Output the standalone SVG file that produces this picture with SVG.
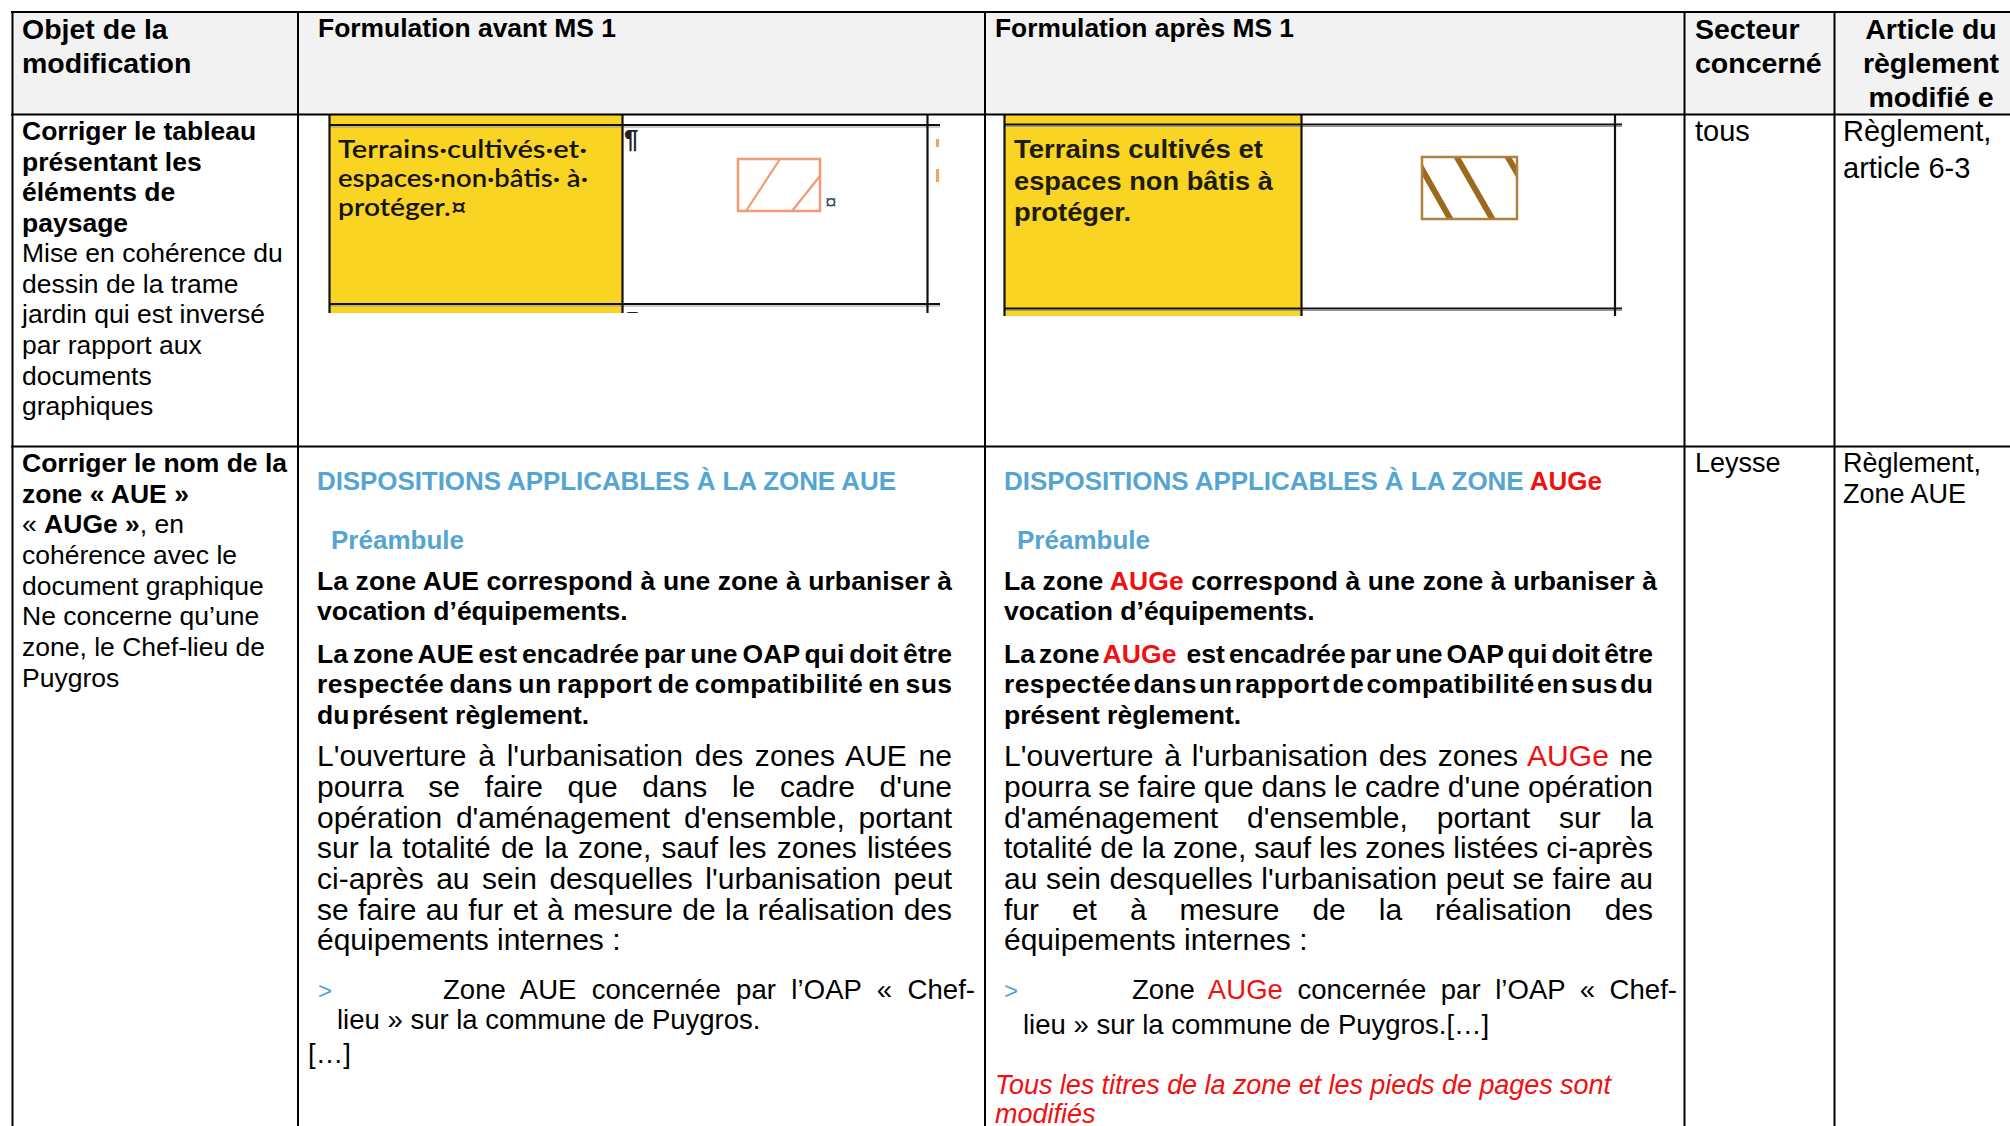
<svg xmlns="http://www.w3.org/2000/svg" width="2010" height="1126" viewBox="0 0 2010 1126">
<style>
text{font-family:"Liberation Sans",Arial,sans-serif;fill:#000}
.hd{font-size:28.5px;font-weight:bold}
.hd2{font-size:26.5px;font-weight:bold}
.b{font-size:26.5px;font-weight:bold}
.r{font-size:26.5px}
.rr{font-size:30px}
.bu{font-size:27.5px}
.c45a{font-size:29px}
.c45b{font-size:27px}
.blue{fill:#55a5d2}
.red{fill:#f01010}
.bl{fill:#55a5d2;font-size:26px;font-weight:bold}
.grid{stroke:#000;stroke-width:2;fill:none}
.imgline{stroke:#111;stroke-width:2.2}
.yel{fill:#f9d423}
.cal{font-family:Lato,"Open Sans",sans-serif;font-size:24px;font-weight:600;fill:#141408}
.ab{font-size:25px;font-weight:bold;fill:#1c1c10}
</style>
<defs>
<clipPath id="clipA"><rect x="322" y="115" width="620" height="198"/></clipPath>
<clipPath id="clipB"><rect x="1000" y="115" width="626" height="201"/></clipPath>
<clipPath id="hatchB"><rect x="1422" y="157" width="95" height="62"/></clipPath>
</defs>

<!-- header background -->
<rect x="12" y="12" width="1998" height="102.5" fill="#f2f2f2"/>

<!-- row 1 embedded legend extracts -->
<g id="extract-before" clip-path="url(#clipA)">
  <rect class="yel" x="329" y="114" width="293" height="200"/>
  <rect x="622" y="114" width="305" height="200" fill="#fff"/>
  <line class="imgline" x1="329" y1="125" x2="940" y2="125"/>
  <line x1="329" y1="127" x2="940" y2="127" stroke="#999" stroke-width="1"/>
  <line class="imgline" x1="329" y1="304" x2="940" y2="304"/>
  <line x1="329" y1="306" x2="940" y2="306" stroke="#999" stroke-width="1"/>
  <line class="imgline" x1="329.5" y1="114" x2="329.5" y2="316"/>
  <line class="imgline" x1="622.5" y1="114" x2="622.5" y2="316"/>
  <line class="imgline" x1="927.5" y1="114" x2="927.5" y2="316"/>
  <text x="624" y="148" style="font-size:26px;font-weight:bold;fill:#222">¶</text>
  <text x="624" y="330" style="font-size:26px;font-weight:bold;fill:#222">¶</text>
  <rect x="936" y="139" width="3" height="8" fill="#f4a460"/>
  <rect x="936" y="169" width="3" height="13" fill="#f4a460"/>
  <text class="cal" x="338" y="158" textLength="249" lengthAdjust="spacingAndGlyphs">Terrains·cultivés·et·</text>
  <text class="cal" x="338" y="187" textLength="250" lengthAdjust="spacingAndGlyphs">espaces·non·bâtis· à·</text>
  <text class="cal" x="338" y="216" textLength="129" lengthAdjust="spacingAndGlyphs">protéger.¤</text>
  <rect x="738" y="159" width="82" height="52" fill="none" stroke="#f29a72" stroke-width="2.5"/>
  <line x1="746" y1="211" x2="780" y2="159" stroke="#f29a72" stroke-width="2.2"/>
  <line x1="792" y1="211" x2="820" y2="176" stroke="#f29a72" stroke-width="2.2"/>
  <text x="825" y="209" style="font-size:21px;fill:#3a4a6a">¤</text>
</g>

<g id="extract-after" clip-path="url(#clipB)">
  <rect class="yel" x="1004" y="114" width="297" height="202"/>
  <rect x="1301" y="114" width="314" height="202" fill="#fff"/>
  <line class="imgline" x1="1004" y1="124.5" x2="1622" y2="124.5"/>
  <line x1="1004" y1="126.5" x2="1622" y2="126.5" stroke="#999" stroke-width="1"/>
  <line class="imgline" x1="1004" y1="308.5" x2="1622" y2="308.5"/>
  <line x1="1004" y1="310.5" x2="1622" y2="310.5" stroke="#999" stroke-width="1"/>
  <line class="imgline" x1="1004.5" y1="114" x2="1004.5" y2="316"/>
  <line class="imgline" x1="1301.5" y1="114" x2="1301.5" y2="316"/>
  <line class="imgline" x1="1615" y1="114" x2="1615" y2="316"/>
  <text class="ab" x="1014" y="158" textLength="249" lengthAdjust="spacingAndGlyphs">Terrains cultivés et</text>
  <text class="ab" x="1014" y="190" textLength="259" lengthAdjust="spacingAndGlyphs">espaces non bâtis à</text>
  <text class="ab" x="1014" y="221" textLength="117" lengthAdjust="spacingAndGlyphs">protéger.</text>
  <g clip-path="url(#hatchB)" stroke="#9c6a1e" stroke-width="6">
    <line x1="1418" y1="162" x2="1452" y2="222"/>
    <line x1="1455" y1="154" x2="1494" y2="222"/>
    <line x1="1506" y1="154" x2="1520" y2="178"/>
  </g>
  <rect x="1422" y="157" width="95" height="62" fill="none" stroke="#b08040" stroke-width="2.5"/>
</g>

<!-- table grid -->
<g id="connectors">
  <line class="grid" x1="11" y1="12" x2="2010" y2="12"/>
  <line class="grid" x1="11" y1="114.5" x2="2010" y2="114.5"/>
  <line class="grid" x1="11" y1="446.5" x2="2010" y2="446.5"/>
  <line class="grid" x1="12.5" y1="11" x2="12.5" y2="1126"/>
  <line class="grid" x1="298" y1="11" x2="298" y2="1126"/>
  <line class="grid" x1="985" y1="11" x2="985" y2="1126"/>
  <line class="grid" x1="1684.5" y1="11" x2="1684.5" y2="1126"/>
  <line class="grid" x1="1834.5" y1="11" x2="1834.5" y2="1126"/>
</g>

<!-- header -->
<g id="header">
  <text class="hd" x="22" y="39">Objet de la</text>
  <text class="hd" x="22" y="73">modification</text>
  <text class="hd2" x="318" y="37" textLength="298" lengthAdjust="spacingAndGlyphs">Formulation avant MS 1</text>
  <text class="hd2" x="995" y="37" textLength="299" lengthAdjust="spacingAndGlyphs">Formulation après MS 1</text>
  <text class="hd" x="1695" y="39">Secteur</text>
  <text class="hd" x="1695" y="73">concerné</text>
  <text class="hd" x="1931" y="39" text-anchor="middle">Article du</text>
  <text class="hd" x="1931" y="73" text-anchor="middle">règlement</text>
  <text class="hd" x="1931" y="107" text-anchor="middle">modifié e</text>
</g>

<!-- row 1 -->
<g id="row1-object">
  <text class="b" x="22" y="140">Corriger le tableau</text>
  <text class="b" x="22" y="171">présentant les</text>
  <text class="b" x="22" y="201">éléments de</text>
  <text class="b" x="22" y="232">paysage</text>
  <text class="r" x="22" y="262">Mise en cohérence du</text>
  <text class="r" x="22" y="293">dessin de la trame</text>
  <text class="r" x="22" y="323">jardin qui est inversé</text>
  <text class="r" x="22" y="354">par rapport aux</text>
  <text class="r" x="22" y="385">documents</text>
  <text class="r" x="22" y="415">graphiques</text>
</g>
<g id="row1-sector"><text class="c45a" x="1695" y="141">tous</text></g>
<g id="row1-article">
  <text class="c45a" x="1843" y="141">Règlement,</text>
  <text class="c45a" x="1843" y="178">article 6-3</text>
</g>

<!-- row 2 -->
<g id="row2-object">
  <text class="b" x="22" y="472">Corriger le nom de la</text>
  <text class="b" x="22" y="503">zone « AUE »</text>
  <text class="r" x="22" y="533">« <tspan font-weight="bold">AUGe »</tspan>, en</text>
  <text class="r" x="22" y="564">cohérence avec le</text>
  <text class="r" x="22" y="595">document graphique</text>
  <text class="r" x="22" y="625">Ne concerne qu’une</text>
  <text class="r" x="22" y="656">zone, le Chef-lieu de</text>
  <text class="r" x="22" y="687">Puygros</text>
</g>

<g id="row2-before">
  <text class="bl" x="317" y="490" textLength="579" lengthAdjust="spacing">DISPOSITIONS APPLICABLES À LA ZONE AUE</text>
  <text class="bl" x="331" y="549">Préambule</text>
  <text class="b" x="317" y="590" textLength="635" lengthAdjust="spacing">La zone AUE correspond à une zone à urbaniser à</text>
  <text class="b" x="317" y="620">vocation d’équipements.</text>
  <text class="b" x="317" y="663" word-spacing="-2.6" textLength="635" lengthAdjust="spacing">La zone AUE est encadrée par une OAP qui doit être</text>
  <text class="b" x="317" y="693" word-spacing="-2.3" textLength="635" lengthAdjust="spacing">respectée dans un rapport de compatibilité en sus</text>
  <text class="b" x="317" y="724">du<tspan x="352">présent règlement.</tspan></text>
  <text class="rr" x="317" y="766" word-spacing="3.3" textLength="635" lengthAdjust="spacing">L'ouverture à l'urbanisation des zones AUE ne</text>
  <text class="rr" x="317" y="797" word-spacing="16.3" textLength="635" lengthAdjust="spacing">pourra se faire que dans le cadre d'une</text>
  <text class="rr" x="317" y="828" word-spacing="5.5" textLength="635" lengthAdjust="spacing">opération d'aménagement d'ensemble, portant</text>
  <text class="rr" x="317" y="858" word-spacing="1.8" textLength="635" lengthAdjust="spacing">sur la totalité de la zone, sauf les zones listées</text>
  <text class="rr" x="317" y="889" word-spacing="4.1" textLength="635" lengthAdjust="spacing">ci-après au sein desquelles l'urbanisation peut</text>
  <text class="rr" x="317" y="920" word-spacing="1" textLength="635" lengthAdjust="spacing">se faire au fur et à mesure de la réalisation des</text>
  <text class="rr" x="317" y="950">équipements internes :</text>
  <text class="blue" x="318" y="999" style="font-size:24px">&gt;</text>
  <text class="bu" x="443" y="999" word-spacing="7.6" textLength="532" lengthAdjust="spacing">Zone AUE concernée par l’OAP « Chef-</text>
  <text class="bu" x="337" y="1029">lieu » sur la commune de Puygros.</text>
  <text class="bu" x="308" y="1063">[…]</text>
</g>

<g id="row2-after">
  <text class="bl" x="1004" y="490" textLength="598" lengthAdjust="spacing">DISPOSITIONS APPLICABLES À LA ZONE <tspan class="red">AUGe</tspan></text>
  <text class="bl" x="1017" y="549">Préambule</text>
  <text class="b" x="1004" y="590" textLength="653" lengthAdjust="spacing">La zone <tspan class="red">AUGe</tspan> correspond à une zone à urbaniser à</text>
  <text class="b" x="1004" y="620">vocation d’équipements.</text>
  <text class="b" x="1004" y="663" word-spacing="-3.4" textLength="649" lengthAdjust="spacing">La zone <tspan class="red">AUGe</tspan> <tspan dx="6">est encadrée par une OAP qui doit être</tspan></text>
  <text class="b" x="1004" y="693" word-spacing="-5.3" textLength="649" lengthAdjust="spacing">respectée dans un rapport de compatibilité en sus du</text>
  <text class="b" x="1004" y="724">présent règlement.</text>
  <text class="rr" x="1004" y="766" word-spacing="2.3" textLength="649" lengthAdjust="spacing">L'ouverture à l'urbanisation des zones <tspan class="red">AUGe</tspan> ne</text>
  <text class="rr" x="1004" y="797" word-spacing="-0.7" textLength="649" lengthAdjust="spacing">pourra se faire que dans le cadre d'une opération</text>
  <text class="rr" x="1004" y="828" word-spacing="20.6" textLength="649" lengthAdjust="spacing">d'aménagement d'ensemble, portant sur la</text>
  <text class="rr" x="1004" y="858" word-spacing="-0.4" textLength="649" lengthAdjust="spacing">totalité de la zone, sauf les zones listées ci-après</text>
  <text class="rr" x="1004" y="889" word-spacing="0.2" textLength="649" lengthAdjust="spacing">au sein desquelles l'urbanisation peut se faire au</text>
  <text class="rr" x="1004" y="920" word-spacing="24.6" textLength="649" lengthAdjust="spacing">fur et à mesure de la réalisation des</text>
  <text class="rr" x="1004" y="950">équipements internes :</text>
  <text class="blue" x="1004" y="999" style="font-size:24px">&gt;</text>
  <text class="bu" x="1132" y="999" word-spacing="6.8" textLength="545" lengthAdjust="spacing">Zone <tspan class="red">AUGe</tspan> concernée par l’OAP « Chef-</text>
  <text class="bu" x="1023" y="1034">lieu » sur la commune de Puygros.[…]</text>
  <text class="red" x="995" y="1094" style="font-size:27px;font-style:italic" textLength="616" lengthAdjust="spacing">Tous les titres de la zone et les pieds de pages sont</text>
  <text class="red" x="995" y="1123" style="font-size:27px;font-style:italic">modifiés</text>
</g>
<g id="row2-sector"><text class="c45b" x="1695" y="472">Leysse</text></g>
<g id="row2-article">
  <text class="c45b" x="1843" y="472">Règlement,</text>
  <text class="c45b" x="1843" y="503">Zone AUE</text>
</g>
</svg>
